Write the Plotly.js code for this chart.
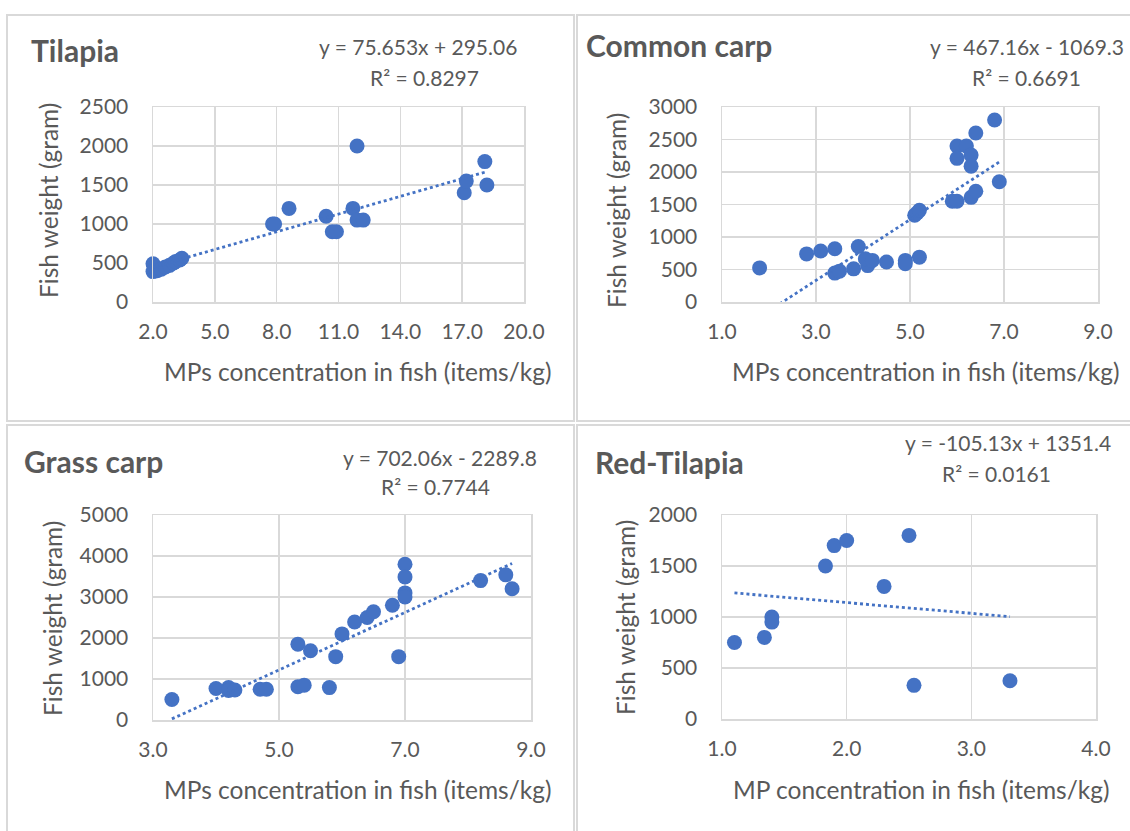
<!DOCTYPE html>
<html><head><meta charset="utf-8">
<script src="https://cdn.plot.ly/plotly-3.0.1.min.js"></script>
<style>html,body{margin:0;padding:0;background:#fff}#chart{width:1130px;height:831px}</style>
</head><body><div id="chart"></div>
<script>
// ---- Data ----
const panelNames = ["Tilapia", "Common carp", "Grass carp", "Red-Tilapia"];
const equations = ["y = 75.653x + 295.06", "y = 467.16x - 1069.3", "y = 702.06x - 2289.8", "y = -105.13x + 1351.4"];
const rSquared = ["R² = 0.8297", "R² = 0.6691", "R² = 0.7744", "R² = 0.0161"];
const slopes = [75.653, 467.16, 702.06, -105.13];
const intercepts = [295.06, -1069.3, -2289.8, 1351.4];
const xTitles = ["MPs concentration in fish (items/kg)", "MPs concentration in fish (items/kg)", "MPs concentration in fish (items/kg)", "MP concentration in fish (items/kg)"];
const yTitle = "Fish weight (gram)";

const tilapiaX = [2.0, 2.0, 2.2, 2.4, 2.6, 2.8, 3.0, 3.1, 3.3, 3.4, 7.8, 7.9, 8.6, 10.4, 10.7, 10.9, 11.7, 11.9, 11.9, 12.2, 17.1, 17.2, 18.1, 18.2];
const tilapiaY = [490, 390, 400, 420, 450, 470, 500, 520, 540, 560, 1000, 1000, 1200, 1100, 900, 900, 1200, 2000, 1050, 1050, 1400, 1550, 1800, 1500];

const commonCarpX = [1.8, 2.8, 3.1, 3.4, 3.9, 3.4, 3.5, 3.8, 4.1, 4.05, 4.2, 4.5, 4.9, 4.9, 5.2, 5.1, 5.15, 5.2, 5.9, 6.0, 6.3, 6.4, 6.9, 6.0, 6.2, 6.0, 6.3, 6.3, 6.4, 6.8];
const commonCarpY = [525, 740, 785, 820, 855, 445, 475, 510, 560, 665, 640, 615, 640, 590, 690, 1335, 1370, 1410, 1550, 1550, 1610, 1705, 1850, 2400, 2400, 2210, 2260, 2090, 2600, 2800];

const grassCarpX = [3.3, 4.0, 4.2, 4.2, 4.3, 4.7, 4.8, 5.3, 5.4, 5.8, 5.3, 5.5, 5.9, 6.0, 6.2, 6.4, 6.5, 6.8, 6.9, 7.0, 7.0, 7.0, 7.0, 8.2, 8.6, 8.7];
const grassCarpY = [500, 770, 790, 720, 730, 750, 750, 810, 850, 790, 1850, 1690, 1545, 2100, 2390, 2500, 2640, 2800, 1545, 3800, 3490, 3100, 3000, 3400, 3540, 3200];

const redTilapiaX = [1.1, 1.34, 1.4, 1.4, 1.83, 1.9, 2.0, 2.5, 2.3, 2.54, 3.31];
const redTilapiaY = [750, 800, 1000, 950, 1500, 1700, 1750, 1800, 1300, 330, 375];

const xTickVals = [[2, 5, 8, 11, 14, 17, 20], [1, 3, 5, 7, 9], [3, 5, 7, 9], [1, 2, 3, 4]];
const yTickVals = [[0, 500, 1000, 1500, 2000, 2500], [0, 500, 1000, 1500, 2000, 2500, 3000], [0, 1000, 2000, 3000, 4000, 5000], [0, 500, 1000, 1500, 2000]];

// ---- Layout helpers ----
const W = 1130, H = 831;
const px = v => v / W;
const py = v => 1 - v / H;
const plotBoxes = [
  {l: 153, r: 524, t: 107, b: 302},
  {l: 722, r: 1098, t: 107, b: 302},
  {l: 153, r: 531, t: 515, b: 720},
  {l: 722, r: 1096, t: 515, b: 719}
];
const panelBoxes = [
  {l: 7, r: 574, t: 15, b: 421},
  {l: 577, r: 1135, t: 15, b: 421},
  {l: 7, r: 574, t: 425, b: 840},
  {l: 577, r: 1135, t: 425, b: 840}
];
const titlePos = [{x: 29, y: 50}, {x: 584, y: 45}, {x: 22, y: 461}, {x: 593, y: 462}];
const eqPos = [{x: 418, y: 47}, {x: 1027, y: 47}, {x: 440, y: 457}, {x: 1008, y: 443}];
const r2Pos = [{x: 424, y: 77}, {x: 1026, y: 77}, {x: 435, y: 487}, {x: 996, y: 473}];
const yTitlePos = [{x: 48, y: 201}, {x: 616, y: 211}, {x: 52, y: 619}, {x: 625, y: 618}];
const xTitlePos = [{x: 357, y: 372}, {x: 925, y: 372}, {x: 357, y: 789}, {x: 921, y: 789}];

const seriesX = [tilapiaX, commonCarpX, grassCarpX, redTilapiaX];
const seriesY = [tilapiaY, commonCarpY, grassCarpY, redTilapiaY];

const blue = "#4472C4", grey = "#595959", gridc = "#d9d9d9";
const FONT = "Lato, 'Open Sans', sans-serif";

const traces = [];
const layout = {
  width: W, height: H, margin: {l: 0, r: 0, t: 0, b: 0},
  paper_bgcolor: "#fff", plot_bgcolor: "#fff", showlegend: false,
  font: {family: FONT, color: grey, size: 21},
  annotations: [], shapes: []
};

for (let i = 0; i < 4; i++) {
  const n = i === 0 ? "" : String(i + 1);
  const xa = "x" + n, ya = "y" + n;
  const xs = seriesX[i], ys = seriesY[i];
  traces.push({
    type: "scatter", mode: "markers", x: xs, y: ys, xaxis: xa, yaxis: ya,
    marker: {color: blue, size: 15, line: {width: 0}}, cliponaxis: false, hoverinfo: "x+y"
  });
  const xmin = Math.min(...xs), xmax = Math.max(...xs);
  traces.push({
    type: "scatter", mode: "lines", x: [xmin, xmax],
    y: [slopes[i] * xmin + intercepts[i], slopes[i] * xmax + intercepts[i]],
    xaxis: xa, yaxis: ya, line: {color: blue, width: 2.8, dash: "dot"}, hoverinfo: "skip"
  });
  const pb = plotBoxes[i];
  const xt = xTickVals[i], yt = yTickVals[i];
  layout["xaxis" + n] = {
    domain: [px(pb.l), px(pb.r)], anchor: ya, range: [xt[0], xt[xt.length - 1]],
    tickvals: xt, ticktext: xt.map(v => v.toFixed(1)), showgrid: true, gridcolor: gridc, gridwidth: 1.5,
    zeroline: false, showline: true, mirror: true, linecolor: gridc, linewidth: 1.5,
    ticks: "", tickfont: {size: 21, color: grey}, ticklabelstandoff: 10, fixedrange: true
  };
  layout["yaxis" + n] = {
    domain: [py(pb.b), py(pb.t)], anchor: xa, range: [yt[0], yt[yt.length - 1]],
    tickvals: yt, showgrid: true, gridcolor: gridc, gridwidth: 1.5,
    zeroline: false, showline: true, mirror: true, linecolor: gridc, linewidth: 1.5,
    ticks: "", tickfont: {size: 21, color: grey}, ticklabelstandoff: 19, fixedrange: true
  };
  const bx = panelBoxes[i];
  layout.shapes.push({type: "rect", xref: "paper", yref: "paper", x0: px(bx.l), x1: px(bx.r), y0: py(bx.b), y1: py(bx.t),
    line: {color: gridc, width: 2}, fillcolor: "rgba(0,0,0,0)"});
  layout.annotations.push({xref: "paper", yref: "paper", x: px(titlePos[i].x), y: py(titlePos[i].y),
    xanchor: "left", yanchor: "middle", showarrow: false, text: "<b>" + panelNames[i] + "</b>",
    font: {size: 30, color: grey, family: FONT}});
  layout.annotations.push({xref: "paper", yref: "paper", x: px(eqPos[i].x), y: py(eqPos[i].y),
    xanchor: "center", yanchor: "middle", showarrow: false,
    text: equations[i], font: {size: 21, color: grey, family: FONT}});
  layout.annotations.push({xref: "paper", yref: "paper", x: px(r2Pos[i].x), y: py(r2Pos[i].y),
    xanchor: "center", yanchor: "middle", showarrow: false,
    text: rSquared[i], font: {size: 21, color: grey, family: FONT}});
  layout.annotations.push({xref: "paper", yref: "paper", x: px(yTitlePos[i].x), y: py(yTitlePos[i].y),
    xanchor: "center", yanchor: "middle", textangle: -90, showarrow: false, text: yTitle,
    font: {size: 24.5, color: grey, family: FONT}});
  layout.annotations.push({xref: "paper", yref: "paper", x: px(xTitlePos[i].x), y: py(xTitlePos[i].y),
    xanchor: "center", yanchor: "middle", showarrow: false, text: xTitles[i],
    font: {size: 24.5, color: grey, family: FONT}});
}

Plotly.newPlot("chart", traces, layout, {displayModeBar: false, staticPlot: true});
</script>
</body></html>
